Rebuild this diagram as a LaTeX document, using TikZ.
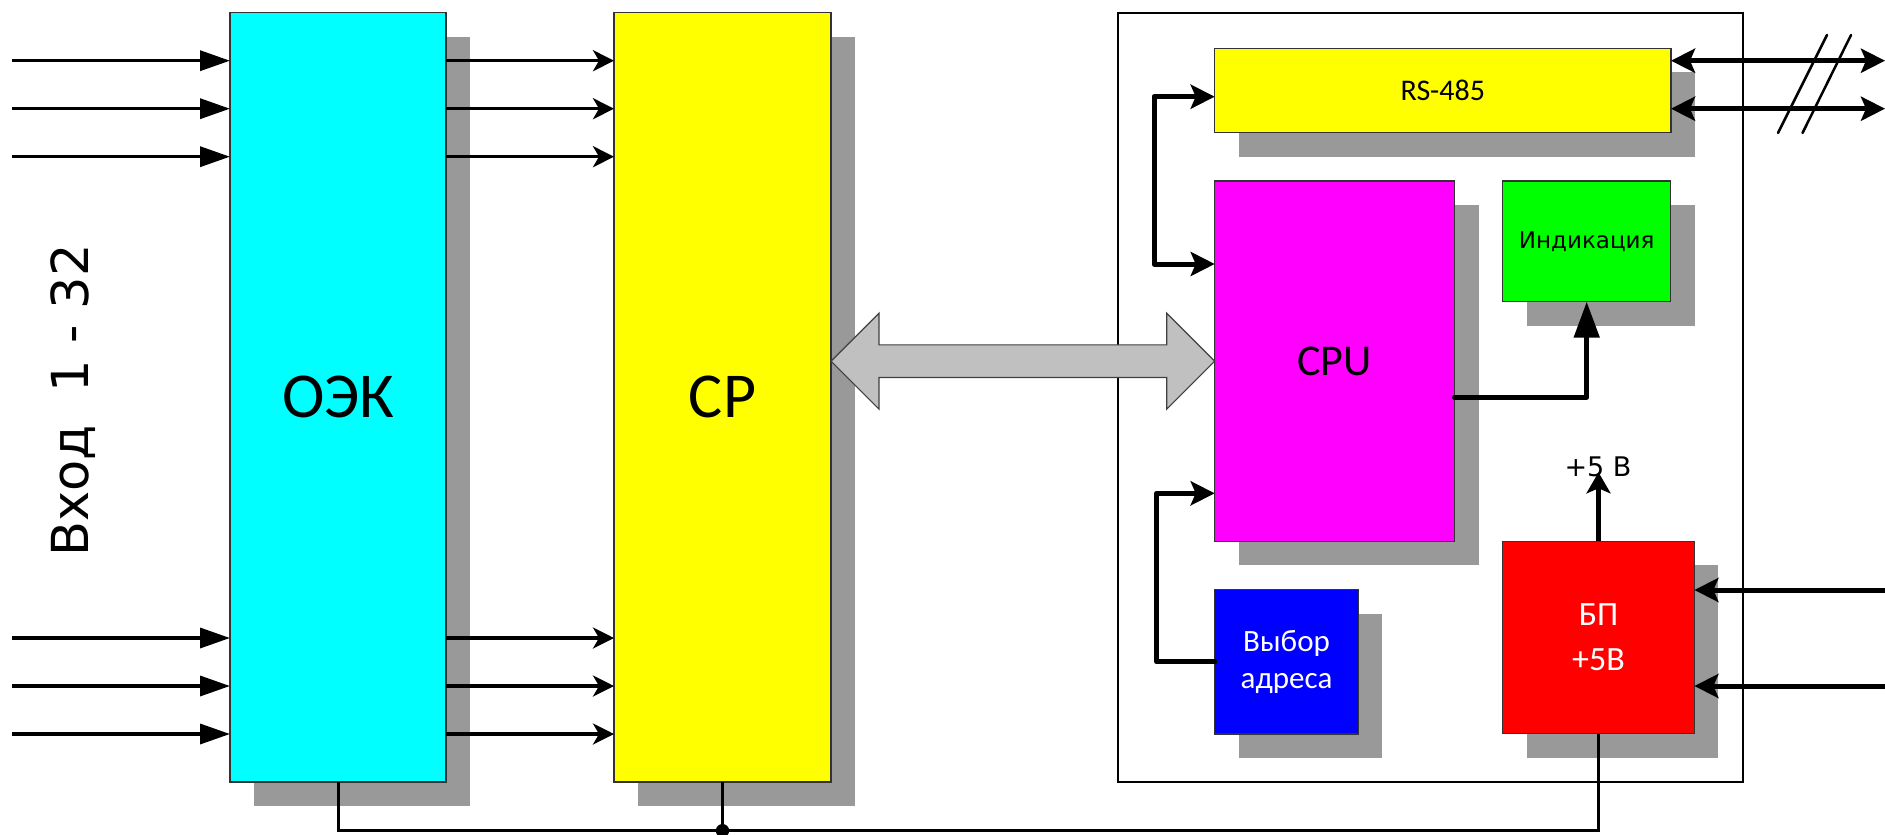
\documentclass[tikz,border=0pt]{standalone}
\usepackage{fontspec}
\setmainfont{Carlito}
\newfontfamily\dejavu{DejaVu Sans}
\usetikzlibrary{arrows.meta,shadows,calc}
\definecolor{shadowgray}{RGB}{153,153,153}
\definecolor{arrowgray}{RGB}{192,192,192}
\definecolor{cyanfill}{RGB}{0,255,255}
\definecolor{yellowfill}{RGB}{255,255,0}
\definecolor{magentafill}{RGB}{255,0,255}
\definecolor{greenfill}{RGB}{0,255,0}
\definecolor{bluefill}{RGB}{0,0,255}
\definecolor{redfill}{RGB}{255,0,0}
\tikzset{hd/.tip={Stealth[length=24pt,width=24pt,inset=5pt]}}
\begin{document}
\begin{tikzpicture}[x=1pt,y=-1pt,
  box/.style={draw=black!80,line width=1.2pt,inner sep=0pt,outer sep=0pt,
    drop shadow={shadow xshift=24pt,shadow yshift=-24pt,fill=shadowgray,opacity=1,draw=none}},
  inarrow/.style={line width=3.5pt,-{Triangle[length=30pt,width=20pt]}},
  midarrow/.style={line width=3.5pt,-{Stealth[length=21pt,width=21pt,inset=6pt]}},
  conn/.style={line width=5pt,line cap=round,line join=round},
  bus/.style={line width=3pt},
  bigarrow/.style={fill=arrowgray,draw=black!75,line width=1.2pt,line join=miter}]
\useasboundingbox[fill=white] (0,0) rectangle (1885,835);

% frame
\node[draw=black,line width=1.8pt,minimum width=625pt,minimum height=769.3pt,inner sep=0pt,outer sep=0pt] (frame) at (1430.5,397.35) {};

% boxes
\node[box,fill=cyanfill,minimum width=216pt,minimum height=769.3pt,font=\fontsize{64}{64}\selectfont] (oek) at (338,397.35) {ОЭК};
\node[box,fill=yellowfill,minimum width=217pt,minimum height=769.3pt,font=\fontsize{64}{64}\selectfont] (cp) at (722.5,397.35) {CP};
\node[box,fill=yellowfill,minimum width=456.3pt,minimum height=84.4pt,font=\fontsize{30}{30}\selectfont] (rs) at (1442.85,90.5) {RS-485};
\node[box,fill=magentafill,minimum width=239.8pt,minimum height=360.3pt,font=\fontsize{44}{44}\selectfont] (cpu) at (1334.6,361.15) {CPU};
\node[box,fill=greenfill,minimum width=168.2pt,minimum height=120.7pt,font=\dejavu\fontsize{23}{23}\selectfont] (ind) at (1586.7,241.35) {Индикация};
\node[box,fill=bluefill,text=white,align=center,minimum width=143.7pt,minimum height=144.3pt,font=\fontsize{31}{37}\selectfont] (addr) at (1286.55,661.85) {Выбор\\адреса};
\node[box,fill=redfill,text=white,align=center,minimum width=191.8pt,minimum height=192.4pt,font=\fontsize{34}{45}\selectfont] (psu) at (1598.5,637.5) {БП\\+5В};

% vertical label
\node[rotate=90,anchor=base,inner sep=0pt,font=\dejavu\fontsize{51}{51}\selectfont] (vhod) at (88.3,400.5) {Вход\ \ 1 - 32};

% input arrows
\foreach \i/\y in {1/60.7,2/108.7,3/156.7,4/638,5/686,6/734}{
  \coordinate (in\i) at (12,\y);
  \draw[inarrow] (in\i) -- (in\i -| oek.west);
  \draw[midarrow] (in\i -| oek.east) -- (in\i -| cp.west);
}

% big double arrow CP <-> CPU
\coordinate (bl) at (cp.east |- cpu.west);
\coordinate (br) at (cpu.west);
\draw[bigarrow] (bl) -- ($(bl)+(48,-48)$) -- ($(bl)+(48,-16.3)$) -- ($(br)+(-48,-16.3)$) -- ($(br)+(-48,-48)$) -- (br)
  -- ($(br)+(-48,48)$) -- ($(br)+(-48,16.3)$) -- ($(bl)+(48,16.3)$) -- ($(bl)+(48,48)$) -- cycle;

% RS-485 <-> CPU
\coordinate (r1) at (1154,96.7);
\coordinate (r2) at (1154,264);
\draw[conn,{hd}-{hd}] (r1 -| rs.west) -- (r1) -- (r2) -- (r2 -| cpu.west);

% address select -> CPU
\coordinate (a1) at (1156.6,493.3);
\draw[conn,-{hd}] (addr.west) -| (a1) -- (a1 -| cpu.west);

% CPU -> indication
\draw[conn,-{Triangle[length=36pt,width=25pt]}] ([yshift=-36.15pt]cpu.east) -| (ind.south);

% RS-485 external lines
\coordinate (o1) at (1885,60.7);
\coordinate (o2) at (1885,108.7);
\draw[line width=5pt,{hd}-{hd}] (o1 -| rs.east) -- (o1);
\draw[line width=5pt,{hd}-{hd}] (o2 -| rs.east) -- (o2);
\draw[line width=2.5pt,line cap=round] (1827,35) -- (1778,133);
\draw[line width=2.5pt,line cap=round] (1851,35) -- (1802.5,133);

% power inputs
\coordinate (p1) at (1885,590);
\coordinate (p2) at (1885,686);
\draw[line width=5pt,-{hd}] (p1) -- (p1 -| psu.east);
\draw[line width=5pt,-{hd}] (p2) -- (p2 -| psu.east);

% +5 V output
\node[font=\dejavu\fontsize{27}{27}\selectfont,inner sep=0pt] (v5lbl) at (1598,467) {+5 В};
\coordinate (v5) at (1598.7,472.3);
\draw[line width=5pt,-{Stealth[length=21pt,width=24pt,inset=5pt]}] (psu.north) -- (psu.north |- v5);

% common bus
\coordinate (busy) at (0,830.7);
\draw[bus] (oek.south) |- (busy -| psu.south) -- (psu.south);
\draw[bus] (cp.south) -- (cp.south |- busy);
\fill (cp.south |- busy) circle (6.7);
\end{tikzpicture}
\end{document}
